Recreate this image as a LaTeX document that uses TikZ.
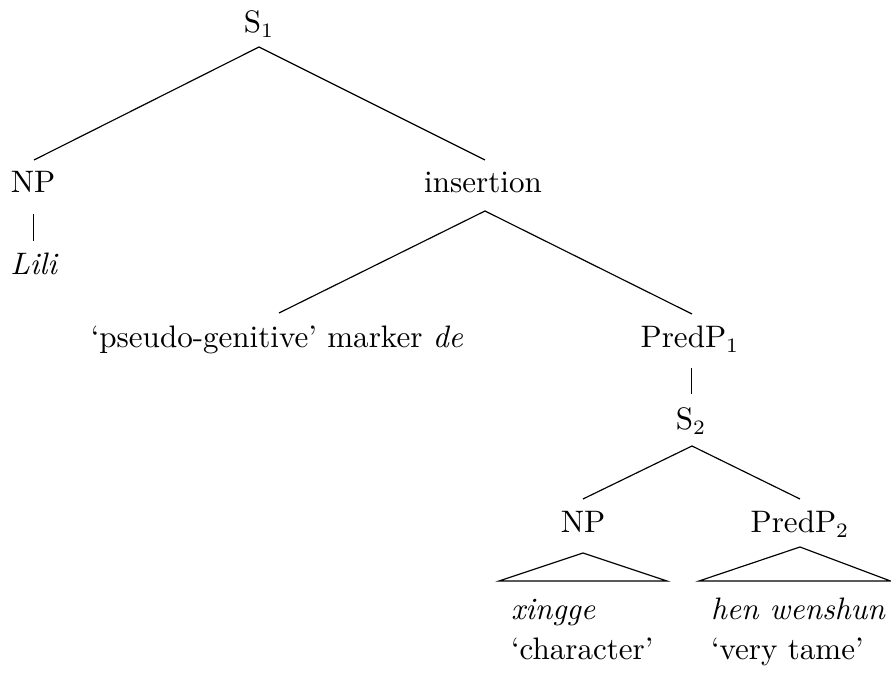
\documentclass[tikz,border=0pt]{standalone}
\begin{document}
\begin{tikzpicture}[x=0.3413pt,y=-0.3413pt,
  every node/.style={font=\fontsize{10.6}{13}\selectfont},
  lab/.style={inner sep=0pt,outer sep=0pt,anchor=base},
  labw/.style={inner sep=0pt,outer sep=0pt,anchor=base west},
  branch/.style={draw=black,line width=0.4pt},
  roof/.style={draw=black,line width=0.4pt,line join=miter}]
\useasboundingbox (0,0) rectangle (891,677);
% labels
\node[lab] (S1) at (259,33) {S$_1$};
\node[lab] (NPa) at (33,193) {NP};
\node[lab] (Lili) at (34.5,275) {\textit{Lili}};
\node[lab] (ins) at (483,193) {insertion};
\node[lab] (pg) at (277,348) {`pseudo-genitive' marker \textit{de}};
\node[lab] (P1) at (690,348) {PredP$_1$};
\node[lab] (S2) at (691,430) {S$_2$};
\node[lab] (NPb) at (583,533) {NP};
\node[lab] (P2) at (800,533) {PredP$_2$};
\node[labw] (xg) at (511,620) {\textit{xingge}};
\node[labw] (ch) at (511,660) {`character'};
\node[labw] (hw) at (711,620) {\textit{hen wenshun}};
\node[labw] (vt) at (711,660) {`very tame'};
% connection points
\coordinate (S1b) at (259,47);
\coordinate (NPat) at (34,160);
\coordinate (inst) at (485,160);
\coordinate (NPab) at (33.5,214);
\coordinate (Lilit) at (33.5,241);
\coordinate (insb) at (485,211);
\coordinate (pgt) at (279,313);
\coordinate (P1t) at (692,314);
\coordinate (P1b) at (691.5,368);
\coordinate (S2t) at (691.5,394);
\coordinate (S2b) at (692,446);
\coordinate (NPbt) at (583,499);
\coordinate (P2t) at (800,499);
\coordinate (NPbr) at (583,553);
\coordinate (NPbl) at (499,581);
\coordinate (NPbrr) at (667,581);
\coordinate (P2r) at (800,547);
\coordinate (P2l) at (699,581);
\coordinate (P2rr) at (890.5,581);
% branches
\draw[branch] (NPat) -- (S1b) -- (inst);
\draw[branch] (NPab) -- (Lilit);
\draw[branch] (pgt) -- (insb) -- (P1t);
\draw[branch] (P1b) -- (S2t);
\draw[branch] (NPbt) -- (S2b) -- (P2t);
\draw[roof] (NPbr) -- (NPbl) -- (NPbrr) -- cycle;
\draw[roof] (P2r) -- (P2l) -- (P2rr) -- cycle;
\end{tikzpicture}
\end{document}
